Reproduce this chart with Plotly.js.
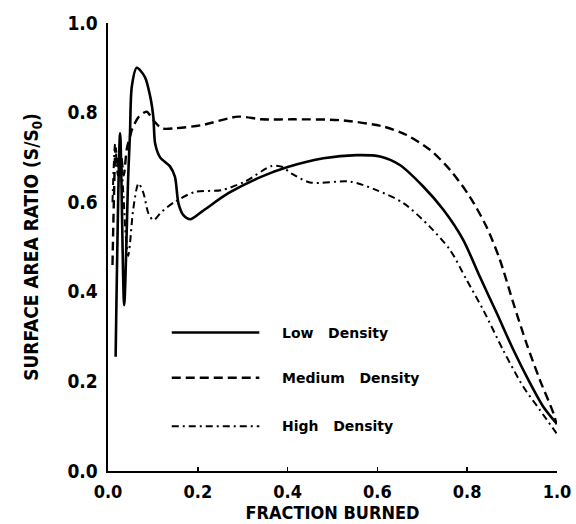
<!DOCTYPE html>
<html>
<head>
<meta charset="utf-8">
<script src="https://cdn.plot.ly/plotly-3.0.1.min.js"></script>
<style>html,body{margin:0;padding:0;background:#fff;}#chart{width:576px;height:524px;}</style>
</head>
<body>
<div id="chart"></div>
<script>
// Low density (solid)
const lowX = [0.017,0.027,0.036,0.045,0.049,0.053,0.064,0.082,0.094,0.101,0.105,0.116,0.138,0.149,0.157,0.168,0.183,0.209,0.268,0.342,0.402,0.48,0.554,0.606,0.65,0.702,0.747,0.791,0.828,0.866,0.903,0.94,0.969,0.999];
const lowY = [0.255,0.754,0.37,0.657,0.754,0.858,0.90,0.88,0.836,0.79,0.731,0.70,0.68,0.657,0.597,0.571,0.562,0.579,0.62,0.657,0.679,0.698,0.705,0.702,0.683,0.635,0.583,0.516,0.434,0.352,0.27,0.196,0.144,0.106];
// Medium density (dashed)
const medX = [0.010,0.013,0.017,0.022,0.028,0.035,0.042,0.050,0.053,0.068,0.086,0.101,0.12,0.149,0.209,0.29,0.342,0.416,0.517,0.613,0.665,0.717,0.762,0.806,0.843,0.873,0.903,0.932,0.962,0.992,0.999];
const medY = [0.46,0.60,0.72,0.68,0.71,0.66,0.72,0.75,0.761,0.79,0.802,0.783,0.765,0.765,0.772,0.791,0.785,0.785,0.783,0.769,0.75,0.717,0.672,0.612,0.545,0.471,0.374,0.285,0.203,0.129,0.104];
// High density (dash-dot)
const highX = [0.010,0.016,0.022,0.028,0.034,0.040,0.045,0.049,0.056,0.068,0.079,0.09,0.101,0.12,0.149,0.194,0.253,0.305,0.365,0.387,0.409,0.45,0.539,0.598,0.658,0.717,0.762,0.799,0.836,0.88,0.925,0.962,0.999];
const highY = [0.60,0.73,0.66,0.70,0.62,0.52,0.48,0.508,0.583,0.642,0.62,0.575,0.56,0.579,0.601,0.623,0.627,0.646,0.681,0.679,0.664,0.644,0.646,0.627,0.598,0.545,0.493,0.426,0.359,0.27,0.188,0.136,0.084];

const seriesNames = ['Low\u00a0\u00a0\u00a0Density','Medium\u00a0\u00a0\u00a0Density','High\u00a0\u00a0\u00a0Density'];
const tickVals = [0,0.2,0.4,0.6,0.8,1.0];
const tickText = ['0.0','0.2','0.4','0.6','0.8','1.0'];

const FONT = 'DejaVu Sans Condensed, DejaVu Sans, sans-serif';

const traces = [
  {x: lowX, y: lowY, mode:'lines', line:{color:'#000', width:2.6, shape:'spline', smoothing:0.8}, showlegend:false, hoverinfo:'skip'},
  {x: medX, y: medY, mode:'lines', line:{color:'#000', width:2.4, dash:'9px,5px', shape:'spline', smoothing:0.8}, showlegend:false, hoverinfo:'skip'},
  {x: highX, y: highY, mode:'lines', line:{color:'#000', width:2, dash:'7px,4px,2px,4px', shape:'spline', smoothing:0.8}, showlegend:false, hoverinfo:'skip'}
];

const legY = [0.309, 0.208, 0.10];
const legDash = ['solid','9px,5px','7px,4px,2px,4px'];
const legW = [2.6, 2.4, 2];
const shapes = [];
const annotations = [];
for (let i = 0; i < 3; i++) {
  shapes.push({type:'line', xref:'paper', yref:'paper', x0:0.142, x1:0.337, y0:legY[i], y1:legY[i], line:{color:'#000', width:legW[i], dash:legDash[i]}});
  annotations.push({xref:'paper', yref:'paper', x:0.383, y:legY[i], xanchor:'left', yanchor:'middle', showarrow:false, text:seriesNames[i], font:{family:'DejaVu Sans, sans-serif', size:14, weight:'bold', color:'#000'}});
}

const layout = {
  width:576, height:524,
  margin:{l:108, r:19, t:23, b:53},
  paper_bgcolor:'#fff', plot_bgcolor:'#fff',
  showlegend:false,
  xaxis:{
    range:[0,1], tickvals:tickVals, ticktext:tickText,
    showgrid:false, zeroline:false, showline:true, linecolor:'#000', linewidth:2,
    ticks:'inside', ticklen:4, tickwidth:1.5, tickcolor:'#000',
    ticklabelstandoff:3,
    tickfont:{family:FONT, size:18, weight:'bold', color:'#000'},
    title:{text:'FRACTION BURNED', standoff:0, font:{family:FONT, size:18, weight:'bold', color:'#000'}}
  },
  yaxis:{
    range:[0,1], tickvals:tickVals, ticktext:tickText,
    showgrid:false, zeroline:false, showline:true, linecolor:'#000', linewidth:2.5,
    ticks:'', ticklabelstandoff:4,
    tickfont:{family:FONT, size:19, weight:'bold', color:'#000'},
    title:{text:'SURFACE AREA RATIO (S/S<sub>0</sub>)', standoff:24, font:{family:FONT, size:19, weight:'bold', color:'#000'}}
  },
  shapes: shapes,
  annotations: annotations
};

Plotly.newPlot('chart', traces, layout, {staticPlot:true, displayModeBar:false});
</script>
</body>
</html>
